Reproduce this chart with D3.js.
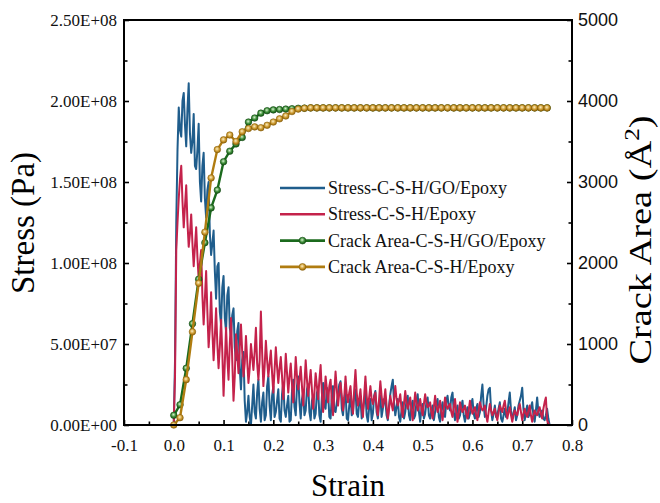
<!DOCTYPE html>
<html>
<head>
<meta charset="utf-8">
<script src="https://cdn.jsdelivr.net/npm/d3@7/dist/d3.min.js"></script>
<style>
  body { margin: 0; background: #fff; }
  svg { display: block; }
</style>
</head>
<body>
<svg width="660" height="503"></svg>
<script>
// stress sampled every 0.0025 strain starting at 0, values in MPa
var stressStart = 0, stressStep = 0.0025;
var stressGO = [0,40,125,170,196,182,178,200,205,185,
  172,195,211,180,168,175,192,160,158,170,
  186,150,138,160,168,140,128,145,150,118,
  105,112,120,95,78,98,100,70,62,85,
  92,66,58,80,85,60,55,68,72,48,
  40,58,63,35,22,40,45,15,2,8,
  18,5,0,12,25,8,4,20,28,10,
  2,14,20,3,6,24,30,12,3,18,
  24,5,8,15,22,4,2,19,26,9,
  5,12,18,2,3,21,28,11,6,24,
  30,14,4,16,20,6,9,22,25,8,
  3,15,18,4,7,20,22,6,2,17,
  26,12,10,23,20,5,4,18,24,9,
  8,14,19,25,27,10,6,16,21,4,
  3,12,18,6,8,19,22,7,5,14,
  17,4,9,15,20,6,2,11,16,3,
  7,18,21,8,4,13,18,5,10,16,
  15,6,3,12,19,24,28,14,6,11,
  16,5,2,9,14,4,8,15,18,6,
  3,12,15,4,6,14,19,8,2,10,
  13,4,7,14,17,6,4,9,12,3,
  8,13,16,5,2,10,14,7,5,15,
  18,11,9,17,20,8,3,8,12,4,
  6,11,15,6,2,7,11,4,7,13,
  16,7,4,10,13,5,8,18,25,12,
  5,11,18,22,23,9,3,7,12,5,
  6,10,14,4,2,6,10,5,7,14,
  20,9,4,7,11,3,6,12,15,18,
  23,10,3,8,12,5,7,11,14,6,
  2,9,17,8,5,7,9,4,3,6,
  10,4,0];
var stressEp = [2,30,108,125,140,152,160,138,122,135,
  148,125,110,118,130,112,98,110,122,104,
  90,100,108,80,62,78,95,70,48,60,
  82,58,40,55,72,50,35,48,65,45,
  18,38,60,42,28,50,66,40,15,30,
  56,44,32,48,62,45,30,38,55,40,
  26,35,50,42,34,45,60,38,28,40,
  70,45,24,36,52,40,30,38,46,32,
  20,34,48,36,26,35,42,30,16,28,
  44,32,20,30,38,25,14,26,42,30,
  22,28,36,24,12,25,40,28,18,26,
  34,22,10,20,32,24,16,28,37,20,
  8,18,30,22,14,24,28,15,6,20,
  33,22,12,20,26,18,9,17,30,19,
  14,20,24,13,7,22,34,20,12,16,
  22,12,5,18,30,18,10,17,24,16,
  13,17,20,11,6,16,27,18,11,15,
  22,12,4,10,18,13,9,16,24,16,
  12,15,19,10,5,13,21,14,10,13,
  17,9,3,12,20,14,9,12,16,10,
  6,13,19,14,11,12,14,8,4,11,
  18,12,8,11,15,8,3,10,17,12,
  10,12,13,8,5,11,16,8,2,8,
  14,10,8,10,12,7,4,9,15,10,
  7,9,11,6,3,9,14,11,9,10,
  12,6,2,8,13,9,6,8,10,6,
  3,8,12,10,8,12,15,9,4,8,
  11,6,2,6,9,7,6,10,13,8,
  3,7,10,7,5,9,12,6,2,6,
  9,7,6,9,11,7,4,10,14,17,
  3,1,0];

// crack area sampled every 0.0125 strain starting at 0, values in A^2
var areaStart = 0, areaStep = 0.0125;
var areaGO = [120,250,700,1250,1800,2250,2680,2900,3250,3380,
  3470,3550,3740,3790,3850,3880,3890,3895,3900,3905,
  3910,3912,3915,3915,3915,3915,3915,3915,3915,3915,
  3915,3915,3915,3915,3915,3915,3915,3915,3915,3915,
  3915,3915,3915,3915,3915,3915,3915,3915,3915,3915,
  3915,3915,3915,3915,3915,3915,3915,3915,3915,3915,
  3915];
var areaEp = [0,90,560,1150,1750,2380,3050,3400,3520,3580,
  3500,3620,3660,3680,3670,3700,3740,3780,3815,3870,
  3900,3910,3915,3915,3915,3915,3915,3915,3915,3915,
  3915,3915,3915,3915,3915,3915,3915,3915,3915,3915,
  3915,3915,3915,3915,3915,3915,3915,3915,3915,3915,
  3915,3915,3915,3915,3915,3915,3915,3915,3915,3915,
  3915];

var strainTicks = [-0.1, 0, 0.1, 0.2, 0.3, 0.4, 0.5, 0.6, 0.7, 0.8];
var stressTicks = [0, 50, 100, 150, 200, 250];
var areaTicks = [0, 1000, 2000, 3000, 4000, 5000];

var legendNames = ["Stress-C-S-H/GO/Epoxy", "Stress-C-S-H/Epoxy",
                   "Crack Area-C-S-H/GO/Epoxy", "Crack Area-C-S-H/Epoxy"];

var blue = "#1f5d8c", red = "#c4224b", green = "#1b6a1d", gold = "#b07c10";

var svg = d3.select("svg"),
    margin = {top: 20, right: 88, bottom: 78, left: 124},
    width = +svg.attr("width") - margin.left - margin.right,
    height = +svg.attr("height") - margin.top - margin.bottom;

var defs = svg.append("defs");
function ballGradient(id, light, mid, dark) {
  var g = defs.append("radialGradient").attr("id", id)
      .attr("cx", "45%").attr("cy", "40%").attr("r", "60%");
  g.append("stop").attr("offset", "0%").attr("stop-color", light);
  g.append("stop").attr("offset", "55%").attr("stop-color", mid);
  g.append("stop").attr("offset", "100%").attr("stop-color", dark);
}
ballGradient("ballGreen", "#d8f2d0", "#3f8f3a", "#145515");
ballGradient("ballGold", "#fbefc4", "#cf9d34", "#94660a");

var g = svg.append("g").attr("transform", "translate(" + margin.left + "," + margin.top + ")");

var x = d3.scaleLinear().domain([-0.1, 0.8]).range([0, width]);
var yS = d3.scaleLinear().domain([0, 250]).range([height, 0]);
var yA = d3.scaleLinear().domain([0, 5000]).range([height, 0]);

function sciLabel(v) {
  var parts = (v * 1e6).toExponential(2).split("e");
  var e = +parts[1];
  return parts[0] + "E" + (e < 0 ? "-" : "+") + (Math.abs(e) < 10 ? "0" : "") + Math.abs(e);
}

// minor ticks (no labels)
var minorX = strainTicks.slice(0, -1).map(function(d) { return d + 0.05; });
var minorS = stressTicks.slice(0, -1).map(function(d) { return d + 25; });
var minorA = areaTicks.slice(0, -1).map(function(d) { return d + 500; });

g.append("g").attr("class", "minor")
    .attr("transform", "translate(0," + height + ")")
    .call(d3.axisBottom(x).tickValues(minorX).tickSize(-3.5).tickFormat(""));
g.append("g").attr("class", "minor")
    .call(d3.axisLeft(yS).tickValues(minorS).tickSize(-3.5).tickFormat(""));
g.append("g").attr("class", "minor")
    .attr("transform", "translate(" + width + ",0)")
    .call(d3.axisRight(yA).tickValues(minorA).tickSize(-3.5).tickFormat(""));

var xAxis = g.append("g")
    .attr("transform", "translate(0," + height + ")")
    .call(d3.axisBottom(x).tickValues(strainTicks).tickSize(-5).tickSizeOuter(0).tickPadding(14)
      .tickFormat(function(d) { return d.toFixed(1); }));
var lAxis = g.append("g")
    .call(d3.axisLeft(yS).tickValues(stressTicks).tickSize(-5).tickSizeOuter(0).tickPadding(7)
      .tickFormat(sciLabel));
var rAxis = g.append("g")
    .attr("transform", "translate(" + width + ",0)")
    .call(d3.axisRight(yA).tickValues(areaTicks).tickSize(-5).tickSizeOuter(0).tickPadding(6)
      .tickFormat(d3.format("d")));

g.selectAll(".minor path").remove();
g.selectAll(".tick line").attr("stroke", "#000").attr("stroke-width", 1.6);
xAxis.selectAll("text").style("font-family", "'Liberation Serif', serif").style("font-size", "17px").attr("fill", "#111");
lAxis.selectAll("text").style("font-family", "'Liberation Serif', serif").style("font-size", "17px").attr("fill", "#111");
rAxis.selectAll("text").style("font-family", "'Liberation Sans', Arial, sans-serif").style("font-size", "18px").attr("fill", "#111");
g.selectAll(".domain").remove();

// stress curves
var stressLine = function(yScale) {
  return d3.line()
    .x(function(d, i) { return x(stressStart + i * stressStep); })
    .y(function(d) { return yScale(d); });
};
g.append("path").datum(stressGO)
    .attr("fill", "none").attr("stroke", blue).attr("stroke-width", 2)
    .attr("stroke-linejoin", "round")
    .attr("d", stressLine(yS));
g.append("path").datum(stressEp)
    .attr("fill", "none").attr("stroke", red).attr("stroke-width", 2)
    .attr("stroke-linejoin", "round")
    .attr("d", stressLine(yS));

// crack area curves with ball markers
function areaSeries(data, color, grad, stroke) {
  var line = d3.line()
      .x(function(d, i) { return x(areaStart + i * areaStep); })
      .y(function(d) { return yA(d); });
  g.append("path").datum(data)
      .attr("fill", "none").attr("stroke", color).attr("stroke-width", 2.4)
      .attr("d", line);
  g.append("g").selectAll("circle")
      .data(data)
    .enter().append("circle")
      .attr("cx", function(d, i) { return x(areaStart + i * areaStep); })
      .attr("cy", function(d) { return yA(d); })
      .attr("r", 3.3)
      .attr("fill", "url(#" + grad + ")")
      .attr("stroke", stroke).attr("stroke-width", 0.6);
}
areaSeries(areaGO, green, "ballGreen", "#124a12");
areaSeries(areaEp, gold, "ballGold", "#8a5f08");

// frame
g.append("rect")
    .attr("width", width).attr("height", height)
    .attr("fill", "none").attr("stroke", "#000").attr("stroke-width", 2);

// axis titles
svg.append("text")
    .attr("transform", "translate(" + (margin.left + x(0.35)) + ",496)")
    .attr("text-anchor", "middle")
    .style("font-family", "'Liberation Serif', serif").style("font-size", "31px")
    .text("Strain");
svg.append("text")
    .attr("transform", "translate(34,223) rotate(-90)")
    .attr("text-anchor", "middle")
    .style("font-family", "'Liberation Serif', serif").style("font-size", "33px")
    .text("Stress (Pa)");
var rt = svg.append("text")
    .attr("transform", "translate(651,240) rotate(-90) scale(1.2,1)")
    .attr("text-anchor", "middle")
    .style("font-family", "'Liberation Serif', serif").style("font-size", "32px");
rt.append("tspan").text("Crack Area (Å");
rt.append("tspan").attr("dy", -12).style("font-size", "21px").text("2");
rt.append("tspan").attr("dy", 12).text(")");

// legend
var legendColors = [blue, red, green, gold];
var legendBalls = [null, null, "ballGreen", "ballGold"];
var legendStroke = [null, null, "#124a12", "#8a5f08"];
var legend = svg.append("g").attr("transform", "translate(280,188)");
var row = legend.selectAll("g")
    .data(legendNames)
  .enter().append("g")
    .attr("transform", function(d, i) { return "translate(0," + (i * 26.3) + ")"; });
row.append("line")
    .attr("x1", 0).attr("x2", 45)
    .attr("stroke", function(d, i) { return legendColors[i]; })
    .attr("stroke-width", 2.6);
row.filter(function(d, i) { return legendBalls[i]; })
    .append("circle")
    .attr("cx", 22.5).attr("r", 3.4)
    .attr("fill", function(d) { return "url(#" + legendBalls[legendNames.indexOf(d)] + ")"; })
    .attr("stroke", function(d) { return legendStroke[legendNames.indexOf(d)]; })
    .attr("stroke-width", 0.6);
row.append("text")
    .attr("x", 48).attr("y", 6)
    .style("font-family", "'Liberation Serif', serif").style("font-size", "18px")
    .attr("fill", "#111")
    .text(function(d) { return d; });
</script>
</body>
</html>
